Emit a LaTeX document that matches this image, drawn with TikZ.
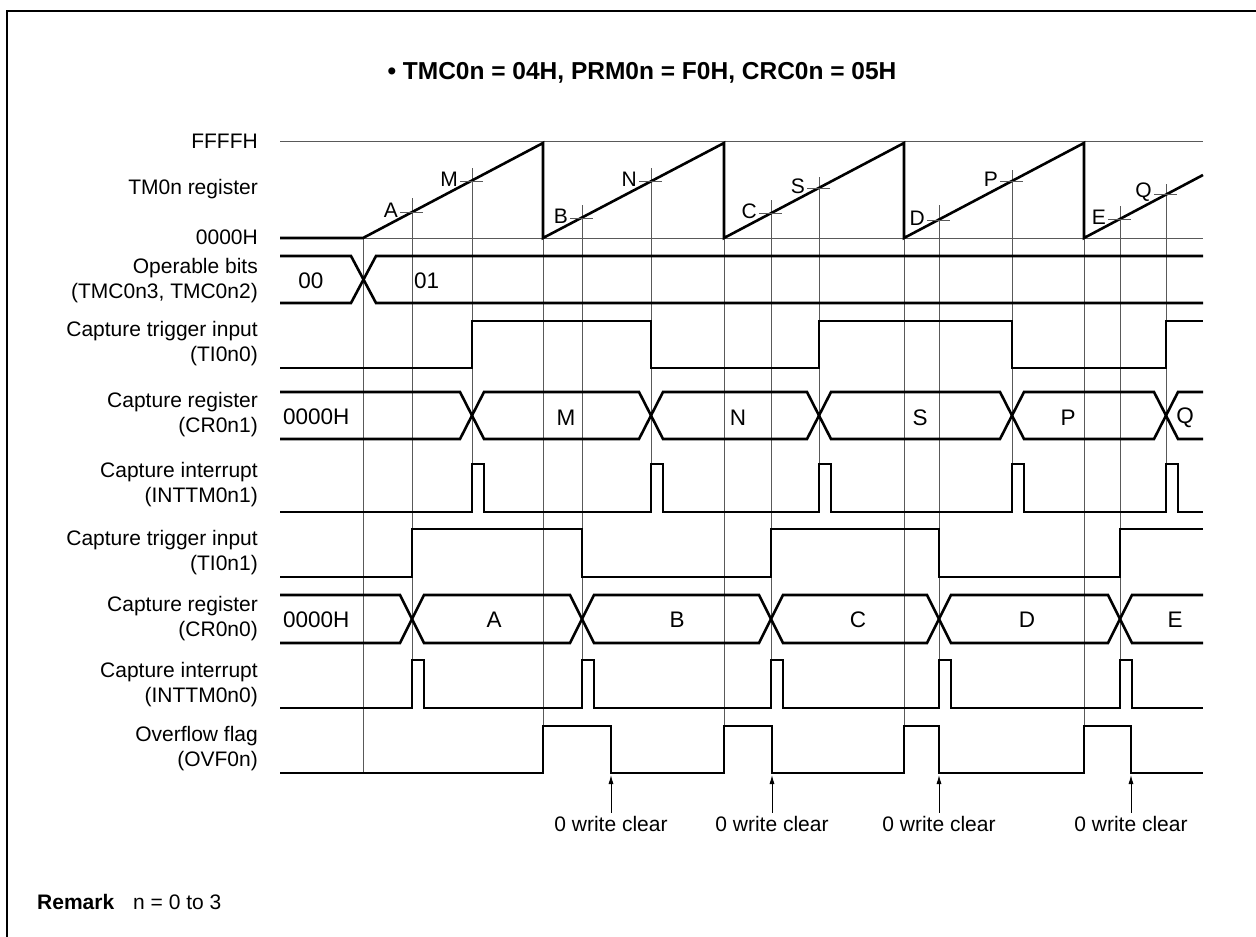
\documentclass[tikz,border=0pt]{standalone}
\usepackage{fontspec}
\setmainfont{Liberation Sans}
\usetikzlibrary{arrows.meta}
\begin{document}
\begin{tikzpicture}[x=1pt,y=-1pt,font=\fontsize{21}{25}\selectfont,
  sig/.style={line width=2.6pt},
  guide/.style={black!65,line width=0.9pt},
  rowlbl/.style={anchor=east,align=right,inner sep=0pt},
  val/.style={font=\fontsize{22.5}{26}\selectfont}]
\useasboundingbox (0,0) rectangle (1256,937);
% Rahmen + Titel
\draw[line width=2pt] (7,945) -- (7,11) -- (1265,11);
\node[font=\fontsize{24.5}{28}\selectfont\bfseries] (title) at (642,73) {\textbullet\ TMC0n = 04H, PRM0n = F0H, CRC0n = 05H};
% Zeilenbeschriftung
\node[rowlbl] (lffff) at (258,141) {FFFFH};
\node[rowlbl] (ltm) at (258,189) {TM0n register};
\node[rowlbl] (lzero) at (258,237) {0000H};
\node[rowlbl] (lop) at (258,281) {Operable bits\\(TMC0n3, TMC0n2)};
\node[rowlbl] (ltia) at (258,344) {Capture trigger input\\(TI0n0)};
\node[rowlbl] (lcra) at (258,415) {Capture register\\(CR0n1)};
\node[rowlbl] (linta) at (258,485) {Capture interrupt\\(INTTM0n1)};
\node[rowlbl] (ltib) at (258,553) {Capture trigger input\\(TI0n1)};
\node[rowlbl] (lcrb) at (258,619) {Capture register\\(CR0n0)};
\node[rowlbl] (lintb) at (258,685) {Capture interrupt\\(INTTM0n0)};
\node[rowlbl] (lovf) at (258,749) {Overflow flag\\(OVF0n)};
% Hilfslinien
\draw[guide] (280,141) -- (1203,141) (280,238) -- (1203,238);
\foreach \x/\a/\b in {363/238/773,412/198/660,472/168/464,543/238/726,582/205/660,
  651/168/464,724/238/726,771/200/660,819/177/464,904/238/726,939/205/660,
  1012/170/464,1084/238/726,1120/206/660,1166/184/464}
  \draw[guide] (\x,\a) -- (\x,\b);
% Zaehler TM0n mit Marken
\draw[sig] (280,238) -- (363,238) -- (543,143) -- (543,238) -- (724,143) -- (724,238)
  -- (904,143) -- (904,238) -- (1084,143) -- (1084,238) -- (1203,175);
\foreach \x/\y/\t in {412/212/A,472/181/M,582/218/B,651/181/N,771/213/C,819/188/S,
  939/220/D,1012/181/P,1120/219/E,1166/194/Q}{
  \draw[guide] (\x-12,\y) -- (\x+11,\y);
  \node[anchor=east,inner sep=0pt] (tm\t) at (\x-14,\y-2) {\t};
}
% Operable bits
\draw[sig] (280,256) -- (351,256) -- (376,303) -- (1203,303)
  (280,303) -- (351,303) -- (376,256) -- (1203,256);
\node[val] (opa) at (311,281) {00};
\node[val,anchor=west,inner sep=0pt] (opb) at (414,281) {01};
% TI0n0, TI0n1, OVF0n
\draw[sig] (280,368) -| (472,321) -| (651,368) -| (819,321) -| (1012,368) -| (1166,321) -- (1203,321);
\draw[sig] (280,577) -| (412,529) -| (582,577) -| (771,529) -| (939,577) -| (1120,529) -- (1203,529);
\draw[sig] (280,773) -| (543,726) -| (611,773) -| (724,726) -| (772,773) -| (904,726)
  -| (939,773) -| (1084,726) -| (1131,773) -- (1203,773);
% CR0n1
\draw[sig] (280,392) -- (460,392) -- (472,415.5) -- (460,439) -- (280,439);
\foreach \a/\b in {472/651,651/819,819/1012,1012/1166}
  \draw[sig] (\a,415.5) -- (\a+12,392) -- (\b-12,392) -- (\b,415.5) -- (\b-12,439) -- (\a+12,439) -- cycle;
\draw[sig] (1203,392) -- (1178,392) -- (1166,415.5) -- (1178,439) -- (1203,439);
\node[val,anchor=west,inner sep=0pt] (cra0) at (283,417) {0000H};
\foreach \x/\t in {566/M,738/N,920/S,1068/P,1185/Q}
  \node[val] (cra\t) at (\x,418) {\t};
% CR0n0
\draw[sig] (280,595) -- (400,595) -- (412,619) -- (400,643) -- (280,643);
\foreach \a/\b in {412/582,582/771,771/939,939/1120}
  \draw[sig] (\a,619) -- (\a+12,595) -- (\b-12,595) -- (\b,619) -- (\b-12,643) -- (\a+12,643) -- cycle;
\draw[sig] (1203,595) -- (1132,595) -- (1120,619) -- (1132,643) -- (1203,643);
\node[val,anchor=west,inner sep=0pt] (crb0) at (283,620) {0000H};
\foreach \x/\t in {494/A,677/B,858/C,1027/D,1175/E}
  \node[val] (crb\t) at (\x,620) {\t};
% INTTM0n1, INTTM0n0
\draw[sig] (280,512) \foreach \p in {472,651,819,1012,1166}{ -- (\p,512) -- (\p,464) -- (\p+12,464) -- (\p+12,512)} -- (1203,512);
\draw[sig] (280,708) \foreach \p in {412,582,771,939,1120}{ -- (\p,708) -- (\p,660) -- (\p+12,660) -- (\p+12,708)} -- (1203,708);
% 0 write clear
\foreach \x [count=\i] in {611,772,939,1131}{
  \node (clr\i) at (\x,824) {0 write clear};
  \coordinate (ovf\i) at (\x,775);
  \draw[line width=0.9pt,-{Latex[length=9pt,width=5pt]}] (clr\i.north) -- (ovf\i);
}
% Remark
\node[anchor=west,inner sep=0pt,font=\fontsize{21}{25}\selectfont\bfseries] (rmk) at (37,902) {Remark};
\node[anchor=west,inner sep=0pt] (rmkn) at (133,902) {n = 0 to 3};
\end{tikzpicture}
\end{document}
